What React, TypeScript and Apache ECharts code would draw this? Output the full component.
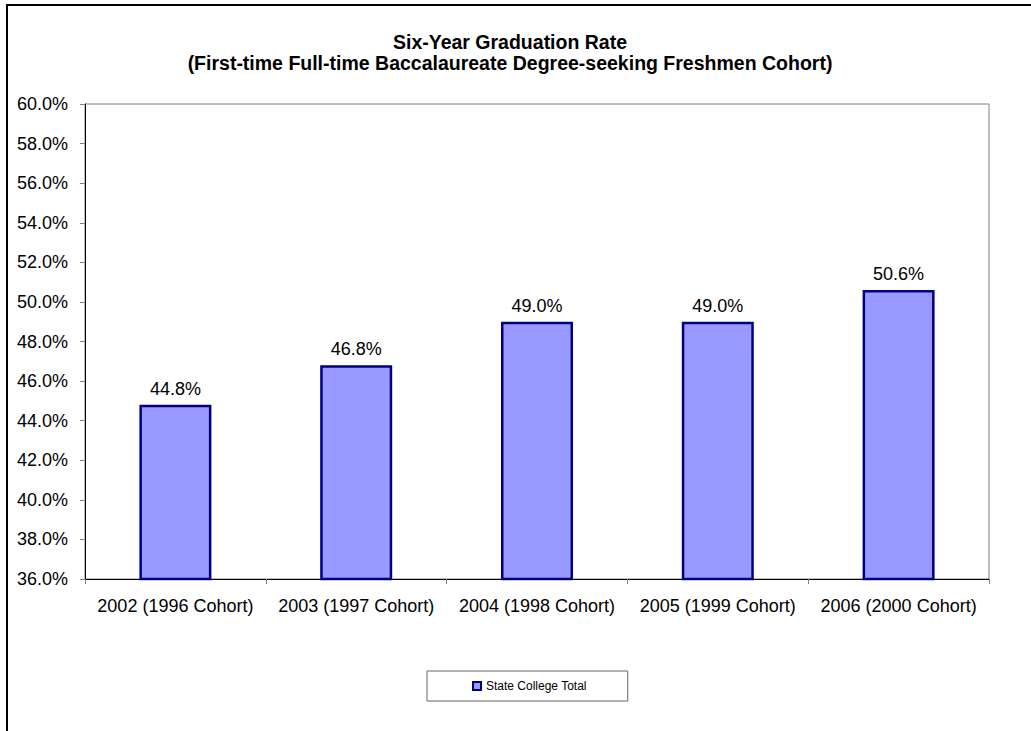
import React, { useEffect, useRef } from "react";
import * as echarts from "echarts";

const categories = [
  "2002 (1996 Cohort)",
  "2003 (1997 Cohort)",
  "2004 (1998 Cohort)",
  "2005 (1999 Cohort)",
  "2006 (2000 Cohort)",
];
const rates = [44.8, 46.8, 49.0, 49.0, 50.6];
const seriesName = "State College Total";
const titleText =
  "Six-Year Graduation Rate\n(First-time Full-time Baccalaureate Degree-seeking Freshmen Cohort)";

const FONT = "'Liberation Sans', Arial, Helvetica, sans-serif";

export default function App() {
  const ref = useRef<HTMLDivElement>(null);
  useEffect(() => {
    if (!ref.current) return;
    const chart = echarts.init(ref.current, null, { renderer: "svg" });
    chart.setOption({
      animation: false,
      backgroundColor: "#ffffff",
      textStyle: { fontFamily: FONT },
      title: {
        text: titleText,
        left: 510,
        top: 31,
        textAlign: "center",
        padding: 0,
        textStyle: {
          fontFamily: FONT,
          fontSize: 19.5,
          fontWeight: "bold",
          color: "#000",
          lineHeight: 21,
        },
      },
      graphic: [
        {
          type: "rect",
          shape: { x: 7, y: 5, width: 1100, height: 800 },
          style: { fill: "none", stroke: "#000", lineWidth: 2 },
          silent: true,
          z: 100,
        },
      ],
      legend: {
        left: 427,
        top: 671,
        padding: [9, 41, 9, 45],
        borderColor: "#666",
        borderWidth: 1,
        itemWidth: 8,
        itemHeight: 8,
        itemGap: 5,
        icon: "rect",
        textStyle: { fontFamily: FONT, fontSize: 12, color: "#000" },
        data: [seriesName],
      },
      grid: {
        left: 85,
        top: 104,
        right: 42,
        bottom: 152,
        show: true,
        borderColor: "#808080",
        borderWidth: 1,
      },
      xAxis: {
        type: "category",
        data: categories,
        axisLine: { lineStyle: { color: "#000", width: 1 } },
        axisTick: { show: true, length: 5, lineStyle: { color: "#808080" } },
        axisLabel: {
          fontFamily: FONT,
          fontSize: 18,
          color: "#000",
          margin: 18,
          interval: 0,
        },
        splitLine: { show: false },
      },
      yAxis: {
        type: "value",
        min: 36,
        max: 60,
        interval: 2,
        axisLine: { show: true, lineStyle: { color: "#000", width: 1 } },
        axisTick: { show: true, length: 5, lineStyle: { color: "#808080" } },
        axisLabel: {
          fontFamily: FONT,
          fontSize: 18,
          color: "#000",
          margin: 17,
          formatter: (v: number) => v.toFixed(1) + "%",
        },
        splitLine: { show: false },
      },
      series: [
        {
          name: seriesName,
          type: "bar",
          data: rates,
          barWidth: 72,
          itemStyle: {
            color: "#9999FF",
            borderColor: "#000080",
            borderWidth: 2.5,
          },
          label: {
            show: true,
            position: "top",
            distance: 7,
            fontFamily: FONT,
            fontSize: 18,
            color: "#000",
            formatter: (p: any) => Number(p.value).toFixed(1) + "%",
          },
        },
      ],
    });
    return () => chart.dispose();
  }, []);
  return (
    <div
      ref={ref}
      style={{ position: "fixed", left: 0, top: 0, width: 1031, height: 731 }}
    />
  );
}
